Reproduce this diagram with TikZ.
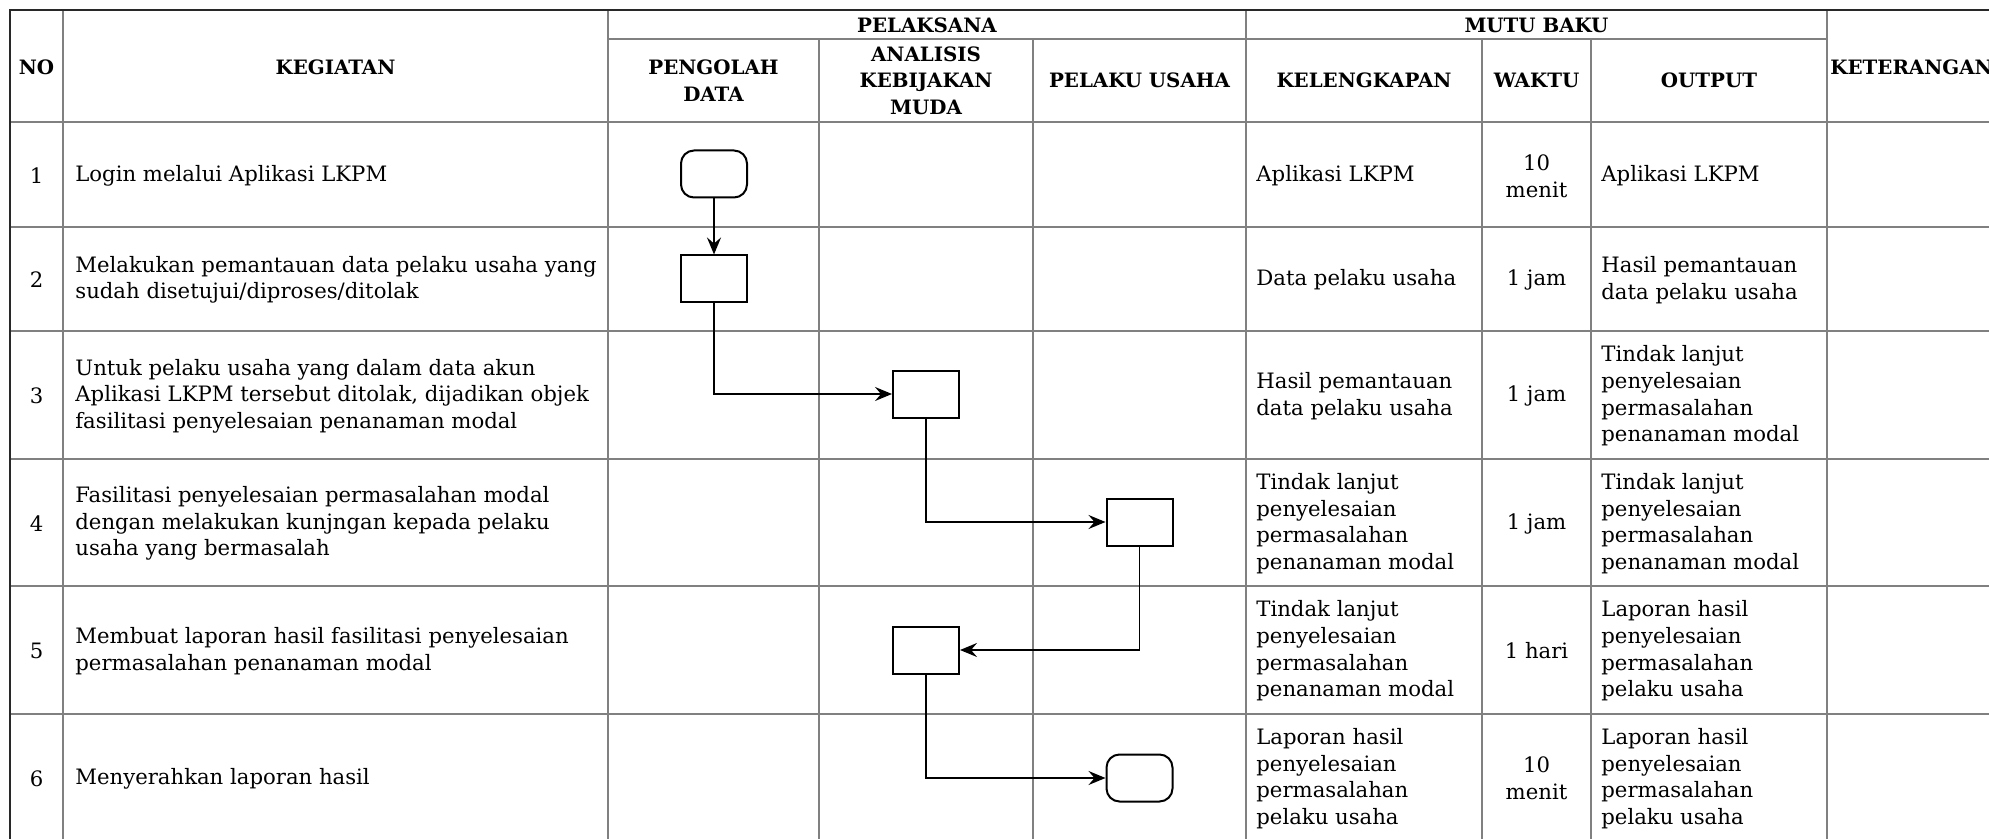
\documentclass[tikz,border=0pt]{standalone}
\usepackage{fontspec}
\setmainfont{DejaVu Serif}
\usepackage{tikz}
\usetikzlibrary{arrows.meta, positioning}
\definecolor{gridGrey}{RGB}{128, 128, 128}
\definecolor{borderDark}{RGB}{40, 40, 40}

\begin{document}
\begin{tikzpicture}[x=0.5pt, y=-0.5pt,
		grid_line/.style   = {draw=gridGrey, line width=1pt},
		border_line/.style = {draw=borderDark, line width=1.3pt},
		head_txt/.style    = {font=\fontsize{9.9}{13.3}\selectfont\bfseries, align=center, inner sep=0pt},
		cell_txt/.style    = {font=\fontsize{10.6}{13.3}\selectfont, align=left, anchor=west, inner sep=0pt},
		num_txt/.style     = {font=\fontsize{10.6}{13.3}\selectfont, align=center, inner sep=0pt},
		flow_proc/.style   = {draw, line width=1pt, rectangle, minimum width=33pt,
			minimum height=23.5pt, inner sep=0pt},
		flow_term/.style   = {flow_proc, rounded corners=6.5pt},
		flow_line/.style   = {-{Stealth[length=8.5pt, width=7pt, inset=3pt]}, line width=0.9pt}
		]
		\useasboundingbox (0,0) rectangle (1989,839);
		
		\foreach \ry in {122,227,331,459,586,714}
		\draw[grid_line] (10,\ry) -- (1989,\ry);
		\draw[grid_line] (608,39) -- (1827,39);
		\foreach \cx in {63,608,1246,1827}
		\draw[grid_line] (\cx,10) -- (\cx,839);
		\foreach \cx in {819,1033,1482,1591}
		\draw[grid_line] (\cx,39) -- (\cx,839);
		\draw[border_line] (10,839) -- (10,10) -- (1989,10);
		
		\node[head_txt] (h_no) at (36.5,67) {NO};
		\node[head_txt] (h_kegiatan) at (335.5,67) {KEGIATAN};
		\node[head_txt] (h_pelaksana) at (927,25) {PELAKSANA};
		\node[head_txt] (h_mutu) at (1536.5,25) {MUTU BAKU};
		\node[head_txt] (h_pengolah) at (713.5,80.5) {PENGOLAH\\DATA};
		\node[head_txt] (h_analisis) at (926,80.5) {ANALISIS\\KEBIJAKAN\\MUDA};
		\node[head_txt] (h_pelaku) at (1139.5,80.5) {PELAKU USAHA};
		\node[head_txt] (h_kelengkapan) at (1364,80.5) {KELENGKAPAN};
		\node[head_txt] (h_waktu) at (1536.5,80.5) {WAKTU};
		\node[head_txt] (h_output) at (1709,80.5) {OUTPUT};
		\node[head_txt, anchor=west] (h_ket) at (1830,67) {KETERANGAN};
		
		\node[num_txt] (no_1) at (36.5,176) {1};
		\node[cell_txt] (keg_1) at (75,176) {Login melalui Aplikasi LKPM};
		\node[cell_txt] (kel_1) at (1256,176) {Aplikasi LKPM};
		\node[num_txt] (wkt_1) at (1536.5,176) {10\\menit};
		\node[cell_txt] (out_1) at (1601,176) {Aplikasi LKPM};
		
		\node[num_txt] (no_2) at (36.5,280) {2};
		\node[cell_txt] (keg_2) at (75,280) {Melakukan pemantauan data pelaku usaha yang\\sudah disetujui/diproses/ditolak};
		\node[cell_txt] (kel_2) at (1256,280) {Data pelaku usaha};
		\node[num_txt] (wkt_2) at (1536.5,280) {1 jam};
		\node[cell_txt] (out_2) at (1601,280) {Hasil pemantauan\\data pelaku usaha};
		
		\node[num_txt] (no_3) at (36.5,396) {3};
		\node[cell_txt] (keg_3) at (75,396) {Untuk pelaku usaha yang dalam data akun\\Aplikasi LKPM tersebut ditolak, dijadikan objek\\fasilitasi penyelesaian penanaman modal};
		\node[cell_txt] (kel_3) at (1256,396) {Hasil pemantauan\\data pelaku usaha};
		\node[num_txt] (wkt_3) at (1536.5,396) {1 jam};
		\node[cell_txt] (out_3) at (1601,396) {Tindak lanjut\\penyelesaian\\permasalahan\\penanaman modal};
		
		\node[num_txt] (no_4) at (36.5,523.5) {4};
		\node[cell_txt] (keg_4) at (75,523.5) {Fasilitasi penyelesaian permasalahan modal\\dengan melakukan kunjngan kepada pelaku\\usaha yang bermasalah};
		\node[cell_txt] (kel_4) at (1256,523.5) {Tindak lanjut\\penyelesaian\\permasalahan\\penanaman modal};
		\node[num_txt] (wkt_4) at (1536.5,523.5) {1 jam};
		\node[cell_txt] (out_4) at (1601,523.5) {Tindak lanjut\\penyelesaian\\permasalahan\\penanaman modal};
		
		\node[num_txt] (no_5) at (36.5,651) {5};
		\node[cell_txt] (keg_5) at (75,651) {Membuat laporan hasil fasilitasi penyelesaian\\permasalahan penanaman modal};
		\node[cell_txt] (kel_5) at (1256,651) {Tindak lanjut\\penyelesaian\\permasalahan\\penanaman modal};
		\node[num_txt] (wkt_5) at (1536.5,651) {1 hari};
		\node[cell_txt] (out_5) at (1601,651) {Laporan hasil\\penyelesaian\\permasalahan\\pelaku usaha};
		
		\node[num_txt] (no_6) at (36.5,778.5) {6};
		\node[cell_txt] (keg_6) at (75,778.5) {Menyerahkan laporan hasil};
		\node[cell_txt] (kel_6) at (1256,778.5) {Laporan hasil\\penyelesaian\\permasalahan\\pelaku usaha};
		\node[num_txt] (wkt_6) at (1536.5,778.5) {10\\menit};
		\node[cell_txt] (out_6) at (1601,778.5) {Laporan hasil\\penyelesaian\\permasalahan\\pelaku usaha};
		
		\node[flow_term] (start_1) at (714,174) {};
		\node[flow_proc] (proc_2) at (714,279) {};
		\node[flow_proc] (proc_3) at (926,394) {};
		\node[flow_proc] (proc_4) at (1139.5,522) {};
		\node[flow_proc] (proc_5) at (926,650) {};
		\node[flow_term] (end_6) at (1139.5,778) {};
		
		\draw[flow_line] (start_1) -- (proc_2);
		\draw[flow_line] (proc_2.south) |- (proc_3.west);
		\draw[flow_line] (proc_3.south) |- (proc_4.west);
		\draw[flow_line] (proc_4.south) |- (proc_5.east);
		\draw[flow_line] (proc_5.south) |- (end_6.west);
	\end{tikzpicture}
\end{document}
